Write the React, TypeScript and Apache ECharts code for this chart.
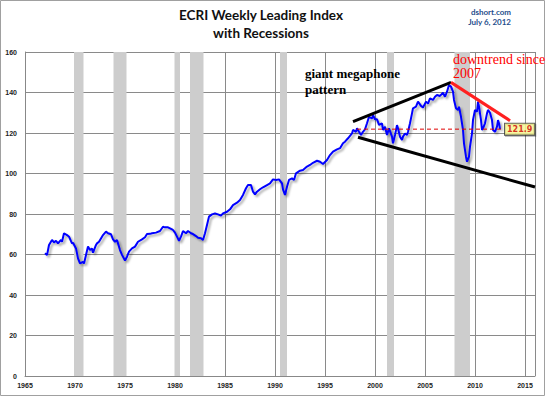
import React, { useEffect, useRef } from "react";
import * as echarts from "echarts";

const years = [
  1967.0, 1967.2, 1967.4, 1967.7, 1967.9, 1968.1, 1968.3, 1968.6, 1968.7, 1968.9,
  1969.2, 1969.4, 1969.7, 1969.8, 1970.1, 1970.3, 1970.5, 1970.8, 1970.9, 1971.1,
  1971.3, 1971.5, 1971.7, 1971.8, 1972.1, 1972.2, 1972.4, 1972.7, 1972.8, 1973.1,
  1973.3, 1973.6, 1973.8, 1974.0, 1974.2, 1974.3, 1974.5, 1974.7, 1975.0, 1975.2,
  1975.4, 1975.7, 1976.0, 1976.3, 1976.7, 1977.0, 1977.2, 1977.5, 1977.7, 1978.1,
  1978.5, 1978.8, 1979.0, 1979.3, 1979.7, 1979.8, 1980.0, 1980.2, 1980.4, 1980.6,
  1980.8, 1981.1, 1981.3, 1981.6, 1981.8, 1982.1, 1982.3, 1982.6, 1982.8, 1983.0,
  1983.2, 1983.4, 1983.7, 1984.0, 1984.3, 1984.6, 1984.8, 1985.2, 1985.5, 1985.8,
  1986.2, 1986.5, 1986.8, 1987.1, 1987.3, 1987.6, 1987.8, 1988.0, 1988.2, 1988.5,
  1988.8, 1989.2, 1989.5, 1989.8, 1990.1, 1990.4, 1990.7, 1990.8, 1991.0, 1991.2,
  1991.4, 1991.7, 1991.9, 1992.1, 1992.5, 1992.8, 1993.2, 1993.5, 1993.8, 1994.2,
  1994.5, 1994.8, 1995.2, 1995.5, 1995.8, 1996.2, 1996.5, 1996.8, 1997.0, 1997.3,
  1997.7, 1997.8, 1998.1, 1998.2, 1998.4, 1998.6, 1998.8, 1999.0, 1999.2, 1999.4,
  1999.7, 1999.8, 2000.0, 2000.2, 2000.4, 2000.7, 2000.8, 2001.0, 2001.2, 2001.4,
  2001.7, 2001.8, 2002.0, 2002.2, 2002.3, 2002.5, 2002.7, 2002.8, 2003.0, 2003.2,
  2003.3, 2003.5, 2003.7, 2003.8, 2004.1, 2004.3, 2004.6, 2004.8, 2005.1, 2005.3,
  2005.5, 2005.8, 2006.0, 2006.2, 2006.5, 2006.8, 2007.0, 2007.2, 2007.4, 2007.6,
  2007.8, 2007.9, 2008.1, 2008.3, 2008.4, 2008.6, 2008.8, 2008.9, 2009.1, 2009.2,
  2009.4, 2009.5, 2009.7, 2009.8, 2010.0, 2010.2, 2010.3, 2010.4, 2010.6, 2010.7,
  2010.8, 2011.0, 2011.2, 2011.3, 2011.5, 2011.7, 2011.8, 2012.0, 2012.2, 2012.3,
  2012.4, 2012.5,
];

const wli = [
  60.6, 59.7, 64.7, 67.2, 66.0, 66.8, 65.5, 67.2, 66.3, 70.5,
  69.6, 68.8, 65.5, 65.8, 63.0, 58.1, 55.6, 56.4, 55.6, 59.8,
  63.9, 62.2, 63.0, 60.9, 64.7, 65.5, 66.3, 68.8, 69.6, 71.3,
  70.5, 70.0, 67.5, 66.3, 67.2, 65.5, 62.2, 59.8, 57.0, 58.9,
  61.4, 63.0, 63.9, 66.3, 67.5, 68.5, 70.1, 70.2, 70.5, 70.8,
  71.6, 73.7, 73.4, 73.4, 72.4, 72.1, 70.8, 68.8, 66.8, 68.8,
  71.6, 70.5, 71.6, 70.5, 70.1, 69.1, 68.3, 68.0, 67.2, 70.5,
  74.6, 78.7, 79.8, 80.3, 79.8, 79.2, 80.3, 81.1, 82.3, 84.4,
  85.6, 86.9, 89.4, 92.7, 94.3, 94.3, 91.0, 89.7, 91.0, 92.2,
  93.2, 94.3, 95.1, 97.1, 96.8, 97.1, 95.1, 92.2, 89.4, 93.5,
  96.8, 97.6, 96.8, 100.1, 101.4, 101.7, 103.4, 104.2, 105.3, 106.3,
  105.8, 104.7, 106.7, 109.1, 110.8, 111.9, 112.5, 114.9, 115.7, 117.4,
  119.8, 121.5, 120.6, 122.3, 120.6, 119.0, 120.6, 121.8, 124.8, 128.0,
  127.2, 128.9, 126.8, 126.8, 124.0, 124.8, 121.5, 123.1, 119.0, 122.3,
  118.2, 114.9, 119.0, 123.9, 122.3, 118.2, 116.5, 118.2, 119.8, 119.0,
  120.6, 124.8, 129.7, 132.2, 133.0, 135.5, 133.4, 132.6, 135.5, 134.5,
  137.1, 136.3, 137.9, 138.8, 138.3, 139.9, 137.9, 140.4, 143.7, 142.9,
  140.4, 136.3, 132.2, 131.4, 133.0, 128.0, 121.5, 114.9, 108.3, 105.8,
  108.3, 113.2, 119.8, 126.4, 131.4, 130.5, 135.5, 133.0, 126.4, 121.5,
  122.3, 124.8, 129.7, 131.4, 130.0, 126.4, 121.5, 120.6, 123.1, 126.4,
  124.8, 121.9,
];

const recessionStarts = [1969.9, 1973.85, 1979.95, 1981.5, 1990.5, 2001.2, 2007.95];
const recessionEnds = [1970.85, 1975.15, 1980.5, 1982.85, 1991.2, 2001.9, 2009.5];

const upperTrend = [[1997.8, 125.6], [2007.6, 145.0]];
const lowerTrend = [[1998.3, 117.9], [2016.0, 93.3]];
const downTrend = [[2007.6, 145.0], [2013.5, 126.1]];
const lastValue = 121.9;
const lastYear = 2012.5;
const dashedLevel = [[1998.2, lastValue], [2012.7, lastValue]];

const xTicks = { min: 1965, max: 2016, interval: 5 };
const yTicks = { min: 0, max: 160, interval: 20 };

export default function App() {
  const ref = useRef<HTMLDivElement>(null);
  useEffect(() => {
    if (!ref.current) return;
    const chart = echarts.init(ref.current, null, { renderer: "svg" });
    const lineData = years.map((y, i) => [y, wli[i]]);
    const areas = recessionStarts.map((s, i) => [{ xAxis: s }, { xAxis: recessionEnds[i] }]);
    const tickFont = { fontFamily: "Liberation Sans", fontSize: 7, color: "#222", fontWeight: "bold" as const };
    chart.setOption({
      animation: false,
      backgroundColor: "#ffffff",
      grid: { left: 25, right: 10, top: 52, bottom: 20 },
      xAxis: {
        type: "value",
        min: xTicks.min,
        max: xTicks.max,
        interval: xTicks.interval,
        axisLine: { show: true, lineStyle: { color: "#888", width: 1 } },
        axisTick: { show: false },
        splitLine: { show: true, lineStyle: { color: "#8a8a8a", width: 1 } },
        axisLabel: { ...tickFont, margin: 6, showMaxLabel: false, formatter: (v: number) => String(v) },
      },
      yAxis: {
        type: "value",
        min: yTicks.min,
        max: yTicks.max,
        interval: yTicks.interval,
        axisLine: { show: true, lineStyle: { color: "#888", width: 1 } },
        axisTick: { show: false },
        splitLine: { show: true, lineStyle: { color: "#8a8a8a", width: 1 } },
        axisLabel: { ...tickFont, margin: 8 },
      },
      series: [
        {
          type: "line",
          data: lineData,
          showSymbol: false,
          symbol: "none",
          z: 5,
          lineStyle: {
            color: "#0000ff",
            width: 2,
            shadowColor: "rgba(0,0,0,0.35)",
            shadowBlur: 2,
            shadowOffsetX: 2,
            shadowOffsetY: 2,
          },
          markArea: {
            silent: true,
            itemStyle: { color: "#cdcdcd" },
            data: areas,
          },
        },
        {
          type: "line",
          data: upperTrend,
          symbol: "none",
          z: 6,
          lineStyle: { color: "#000", width: 3 },
        },
        {
          type: "line",
          data: lowerTrend,
          symbol: "none",
          z: 6,
          lineStyle: { color: "#000", width: 3 },
        },
        {
          type: "line",
          data: downTrend,
          symbol: "none",
          z: 6,
          lineStyle: { color: "#ff2020", width: 3 },
        },
        {
          type: "line",
          data: dashedLevel,
          symbol: "none",
          z: 7,
          lineStyle: { color: "#e00000", width: 1, type: [4, 3] },
        },
        {
          type: "scatter",
          data: [[lastYear, lastValue]],
          symbolSize: 0,
          z: 8,
          label: {
            show: true,
            position: "right",
            distance: 5,
            formatter: String(lastValue),
            color: "#cc0000",
            fontFamily: "DejaVu Sans",
            fontSize: 8,
            fontWeight: "bold",
            backgroundColor: "#ffff99",
            borderColor: "#333",
            borderWidth: 1,
            padding: [2, 2, 1, 2],
            shadowColor: "rgba(0,0,0,0.4)",
            shadowOffsetX: 1,
            shadowOffsetY: 1,
          },
        },
      ],
      graphic: [
        {
          type: "rect",
          shape: { x: 0.5, y: 0.5, width: 544, height: 395 },
          style: { fill: "none", stroke: "#a0a0a0", lineWidth: 1 },
          silent: true,
        },
        {
          type: "text",
          x: 261,
          y: 6,
          style: {
            text: "ECRI Weekly Leading Index\nwith Recessions",
            align: "center",
            fontFamily: "Lato",
            fontSize: 13.5,
            fontWeight: "bold",
            lineHeight: 18,
            fill: "#111",
          },
        },
        {
          type: "text",
          x: 511,
          y: 7,
          style: {
            text: "dshort.com\nJuly 6, 2012",
            align: "right",
            fontFamily: "Lato",
            fontSize: 8,
            fontWeight: "bold",
            lineHeight: 10,
            fill: "#1f4e8c",
          },
        },
        {
          type: "text",
          x: 305,
          y: 65,
          z: 10,
          style: {
            text: "giant megaphone\npattern",
            fontFamily: "Liberation Serif",
            fontSize: 13,
            fontWeight: "bold",
            lineHeight: 16,
            fill: "#000",
          },
        },
        {
          type: "text",
          x: 453,
          y: 52,
          z: 10,
          style: {
            text: "downtrend since\n2007",
            fontFamily: "Liberation Serif",
            fontSize: 14,
            lineHeight: 14,
            fill: "#ff0000",
          },
        },
      ],
    });
    return () => chart.dispose();
  }, []);
  return (
    <div
      ref={ref}
      style={{ position: "fixed", left: 0, top: 0, width: 545, height: 396 }}
    />
  );
}
